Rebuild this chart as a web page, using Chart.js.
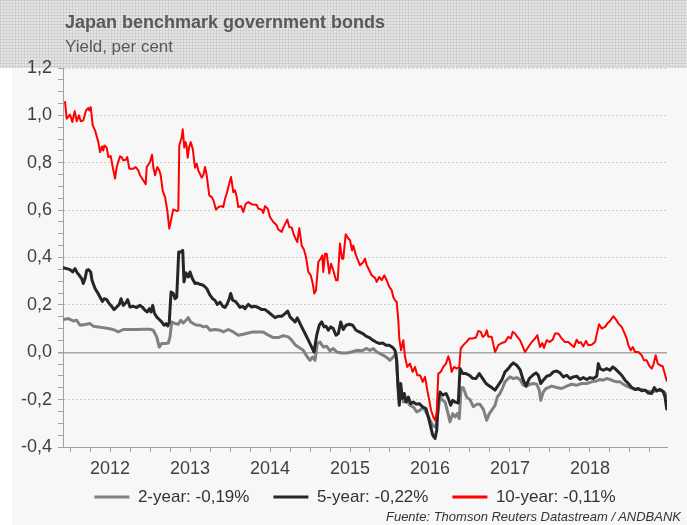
<!DOCTYPE html>
<html><head><meta charset="utf-8">
<script src="https://cdn.jsdelivr.net/npm/chart.js@4.4.0/dist/chart.umd.min.js"></script>
<style>
html,body{margin:0;padding:0;background:#fff;}
#wrap{position:relative;width:687px;height:525px;overflow:hidden;font-family:"Liberation Sans",Arial,sans-serif;}
#c{position:absolute;left:0;top:0;}
.t{position:absolute;white-space:nowrap;}
#title{left:65px;top:12px;font-weight:bold;font-size:18px;line-height:20px;color:#595959;}
#subtitle{left:65px;top:37px;font-size:17px;line-height:20px;color:#595959;}
#footer{right:6px;top:509px;font-style:italic;font-size:13px;line-height:15px;color:#333;}
</style></head><body>
<div id="wrap"><canvas id="c" width="687" height="525"></canvas>
<div class="t" id="title">Japan benchmark government bonds</div>
<div class="t" id="subtitle">Yield, per cent</div>
<div class="t" id="footer">Fuente: Thomson Reuters Datastream / ANDBANK</div>
</div>
<script>
// ---- data (decimal-year dates, yields in per cent) ----
const seriesNames = ['2-year: -0,19%', '5-year: -0,22%', '10-year: -0,11%'];
const yearLabels = ['2012','2013','2014','2015','2016','2017','2018'];
const yTickValues = [-0.4,-0.2,0,0.2,0.4,0.6,0.8,1.0,1.2];
const yTickLabels = ['-0,4','-0,2','0,0','0,2','0,4','0,6','0,8','1,0','1,2'];

const dates2y = [2011.916,2011.979,2012.041,2012.084,2012.125,2012.188,2012.250,2012.291,2012.354,2012.416,
2012.479,2012.541,2012.604,2012.666,2012.750,2012.834,2012.916,2013.000,2013.041,2013.084,
2013.116,2013.146,2013.188,2013.229,2013.250,2013.271,2013.313,2013.354,2013.384,2013.416,
2013.450,2013.479,2013.509,2013.541,2013.584,2013.625,2013.666,2013.709,2013.750,2013.813,
2013.875,2013.916,2013.979,2014.041,2014.104,2014.166,2014.229,2014.291,2014.354,2014.416,
2014.479,2014.541,2014.604,2014.666,2014.729,2014.771,2014.813,2014.854,2014.916,2014.966,
2015.000,2015.034,2015.063,2015.091,2015.125,2015.166,2015.209,2015.250,2015.291,2015.334,
2015.396,2015.459,2015.521,2015.584,2015.646,2015.709,2015.750,2015.791,2015.834,2015.875,
2015.916,2015.959,2016.000,2016.041,2016.075,2016.096,2016.116,2016.138,2016.166,2016.209,
2016.250,2016.291,2016.334,2016.375,2016.416,2016.459,2016.500,2016.541,2016.571,2016.596,
2016.625,2016.659,2016.688,2016.716,2016.750,2016.784,2016.813,2016.841,2016.866,2016.888,
2016.916,2016.959,2017.000,2017.041,2017.084,2017.125,2017.166,2017.209,2017.241,2017.271,
2017.313,2017.341,2017.375,2017.409,2017.438,2017.466,2017.500,2017.541,2017.584,2017.625,
2017.666,2017.709,2017.750,2017.791,2017.834,2017.866,2017.884,2017.916,2017.950,2017.979,
2018.021,2018.084,2018.146,2018.209,2018.271,2018.334,2018.396,2018.459,2018.521,2018.584,
2018.625,2018.666,2018.709,2018.750,2018.791,2018.834,2018.875,2018.916,2018.959,2019.000,
2019.041,2019.084,2019.146,2019.209,2019.271,2019.334,2019.396,2019.438,2019.459];
const yield2y = [0.138,0.142,0.132,0.135,0.114,0.117,0.121,0.110,0.107,0.104,
0.100,0.096,0.086,0.096,0.096,0.096,0.097,0.097,0.093,0.065,
0.022,0.037,0.037,0.039,0.065,0.128,0.121,0.118,0.135,0.124,
0.135,0.146,0.128,0.121,0.114,0.114,0.107,0.110,0.093,0.096,
0.093,0.086,0.096,0.086,0.072,0.076,0.081,0.086,0.086,0.086,
0.072,0.062,0.062,0.070,0.065,0.051,0.032,0.022,0.008,-0.020,
-0.034,-0.020,-0.034,0.037,0.043,0.022,0.025,0.006,0.016,0.001,
-0.003,-0.003,0.001,0.008,0.006,0.016,0.008,0.016,0.001,-0.006,
-0.013,-0.022,-0.034,-0.020,-0.006,-0.118,-0.203,-0.160,-0.210,-0.203,
-0.224,-0.231,-0.252,-0.245,-0.231,-0.259,-0.287,-0.312,-0.315,-0.259,
-0.189,-0.203,-0.210,-0.245,-0.294,-0.259,-0.273,-0.259,-0.280,-0.150,
-0.150,-0.190,-0.200,-0.230,-0.220,-0.220,-0.240,-0.287,-0.259,-0.245,
-0.224,-0.189,-0.174,-0.149,-0.125,-0.115,-0.104,-0.111,-0.107,-0.115,
-0.139,-0.143,-0.135,-0.132,-0.135,-0.160,-0.203,-0.168,-0.153,-0.149,
-0.143,-0.149,-0.153,-0.143,-0.135,-0.139,-0.132,-0.132,-0.125,-0.121,
-0.115,-0.118,-0.111,-0.115,-0.121,-0.125,-0.125,-0.135,-0.143,-0.149,
-0.153,-0.157,-0.157,-0.163,-0.167,-0.163,-0.160,-0.172,-0.185];

const dates5y = [2011.916,2011.959,2012.000,2012.034,2012.063,2012.091,2012.116,2012.146,2012.166,2012.188,
2012.209,2012.229,2012.259,2012.275,2012.313,2012.341,2012.375,2012.404,2012.429,2012.459,
2012.491,2012.521,2012.550,2012.584,2012.616,2012.638,2012.666,2012.696,2012.721,2012.750,
2012.791,2012.834,2012.875,2012.909,2012.938,2012.966,2012.991,2013.013,2013.034,2013.054,
2013.084,2013.116,2013.146,2013.175,2013.200,2013.221,2013.241,2013.263,2013.291,2013.313,
2013.334,2013.359,2013.384,2013.409,2013.425,2013.450,2013.479,2013.500,2013.529,2013.563,
2013.591,2013.625,2013.666,2013.709,2013.750,2013.784,2013.813,2013.841,2013.875,2013.909,
2013.938,2013.966,2013.991,2014.009,2014.034,2014.063,2014.091,2014.125,2014.159,2014.188,
2014.229,2014.271,2014.313,2014.354,2014.396,2014.438,2014.479,2014.521,2014.563,2014.604,
2014.646,2014.688,2014.721,2014.750,2014.784,2014.813,2014.841,2014.896,2014.938,2014.979,
2015.021,2015.050,2015.084,2015.116,2015.146,2015.175,2015.200,2015.229,2015.259,2015.291,
2015.325,2015.354,2015.384,2015.416,2015.450,2015.491,2015.534,2015.575,2015.616,2015.659,
2015.700,2015.741,2015.784,2015.825,2015.866,2015.909,2015.950,2015.991,2016.034,2016.063,
2016.084,2016.100,2016.116,2016.134,2016.154,2016.179,2016.200,2016.229,2016.259,2016.291,
2016.325,2016.366,2016.409,2016.450,2016.479,2016.509,2016.534,2016.563,2016.584,2016.604,
2016.625,2016.659,2016.700,2016.729,2016.759,2016.784,2016.813,2016.854,2016.875,2016.909,
2016.950,2016.991,2017.034,2017.075,2017.116,2017.159,2017.200,2017.229,2017.271,2017.313,
2017.354,2017.396,2017.438,2017.479,2017.509,2017.541,2017.584,2017.625,2017.666,2017.700,
2017.741,2017.784,2017.825,2017.854,2017.884,2017.916,2017.959,2018.000,2018.041,2018.084,
2018.125,2018.166,2018.209,2018.250,2018.291,2018.334,2018.375,2018.416,2018.459,2018.500,
2018.541,2018.584,2018.604,2018.625,2018.666,2018.709,2018.750,2018.784,2018.813,2018.854,
2018.896,2018.938,2018.979,2019.021,2019.063,2019.104,2019.146,2019.188,2019.229,2019.271,
2019.304,2019.334,2019.375,2019.416,2019.438,2019.459];
const yield5y = [0.357,0.353,0.349,0.339,0.353,0.335,0.325,0.311,0.290,0.311,
0.346,0.349,0.339,0.304,0.269,0.254,0.233,0.215,0.226,0.222,
0.205,0.194,0.180,0.191,0.202,0.226,0.198,0.208,0.222,0.191,
0.194,0.189,0.198,0.189,0.177,0.170,0.184,0.170,0.198,0.166,
0.149,0.138,0.128,0.114,0.121,0.111,0.128,0.254,0.248,0.226,
0.233,0.423,0.423,0.430,0.297,0.335,0.318,0.339,0.311,0.290,
0.292,0.287,0.283,0.269,0.241,0.226,0.219,0.202,0.212,0.194,
0.189,0.205,0.226,0.248,0.219,0.216,0.205,0.189,0.194,0.184,
0.202,0.191,0.194,0.189,0.180,0.180,0.170,0.158,0.146,0.152,
0.152,0.163,0.174,0.149,0.138,0.128,0.145,0.107,0.079,0.051,
0.022,0.001,0.072,0.114,0.128,0.107,0.110,0.093,0.107,0.100,
0.072,0.079,0.128,0.096,0.114,0.118,0.114,0.093,0.086,0.079,
0.068,0.062,0.051,0.043,0.037,0.039,0.030,0.030,0.020,0.008,
-0.034,-0.146,-0.224,-0.132,-0.195,-0.174,-0.210,-0.189,-0.217,-0.210,
-0.219,-0.217,-0.231,-0.238,-0.273,-0.315,-0.350,-0.364,-0.329,-0.203,
-0.168,-0.181,-0.174,-0.195,-0.224,-0.203,-0.210,-0.214,-0.069,-0.090,
-0.090,-0.097,-0.110,-0.111,-0.090,-0.111,-0.132,-0.139,-0.149,-0.160,
-0.139,-0.118,-0.083,-0.069,-0.055,-0.045,-0.055,-0.073,-0.118,-0.143,
-0.111,-0.097,-0.087,-0.097,-0.132,-0.118,-0.101,-0.097,-0.083,-0.079,
-0.087,-0.104,-0.097,-0.111,-0.104,-0.101,-0.115,-0.107,-0.115,-0.107,
-0.111,-0.101,-0.048,-0.069,-0.076,-0.069,-0.076,-0.062,-0.069,-0.083,
-0.097,-0.118,-0.132,-0.149,-0.157,-0.153,-0.163,-0.160,-0.172,-0.174,
-0.149,-0.163,-0.157,-0.167,-0.189,-0.240];

const dates10y = [2011.938,2011.959,2012.000,2012.029,2012.059,2012.084,2012.113,2012.134,2012.166,2012.200,
2012.229,2012.241,2012.259,2012.284,2012.313,2012.354,2012.375,2012.400,2012.416,2012.429,
2012.459,2012.479,2012.509,2012.534,2012.563,2012.584,2012.625,2012.646,2012.666,2012.700,
2012.716,2012.741,2012.791,2012.821,2012.854,2012.875,2012.916,2012.946,2012.959,2013.000,
2013.025,2013.041,2013.063,2013.091,2013.116,2013.134,2013.159,2013.188,2013.216,2013.241,
2013.271,2013.291,2013.334,2013.354,2013.366,2013.396,2013.409,2013.429,2013.446,2013.459,
2013.471,2013.488,2013.509,2013.534,2013.563,2013.584,2013.604,2013.646,2013.666,2013.688,
2013.709,2013.741,2013.771,2013.791,2013.825,2013.854,2013.896,2013.916,2013.938,2013.959,
2013.991,2014.013,2014.041,2014.063,2014.084,2014.104,2014.138,2014.166,2014.196,2014.229,
2014.271,2014.334,2014.354,2014.396,2014.416,2014.438,2014.471,2014.500,2014.541,2014.584,
2014.604,2014.646,2014.666,2014.716,2014.741,2014.771,2014.800,2014.841,2014.866,2014.896,
2014.925,2014.950,2014.979,2015.009,2015.034,2015.054,2015.075,2015.104,2015.134,2015.154,
2015.166,2015.188,2015.209,2015.241,2015.263,2015.291,2015.325,2015.346,2015.375,2015.400,
2015.416,2015.446,2015.479,2015.500,2015.525,2015.541,2015.575,2015.625,2015.666,2015.688,
2015.709,2015.741,2015.771,2015.813,2015.834,2015.866,2015.896,2015.929,2015.959,2015.991,
2016.021,2016.041,2016.063,2016.084,2016.104,2016.116,2016.138,2016.166,2016.188,2016.216,
2016.250,2016.284,2016.313,2016.341,2016.375,2016.409,2016.438,2016.466,2016.491,2016.513,
2016.541,2016.563,2016.584,2016.604,2016.634,2016.666,2016.700,2016.729,2016.750,2016.771,
2016.800,2016.834,2016.866,2016.884,2016.916,2016.959,2016.991,2017.034,2017.075,2017.104,
2017.134,2017.159,2017.188,2017.209,2017.229,2017.271,2017.313,2017.354,2017.396,2017.438,
2017.479,2017.509,2017.534,2017.563,2017.591,2017.625,2017.659,2017.688,2017.729,2017.771,
2017.813,2017.841,2017.875,2017.904,2017.925,2017.959,2017.991,2018.034,2018.063,2018.104,
2018.146,2018.188,2018.229,2018.271,2018.300,2018.334,2018.359,2018.384,2018.416,2018.450,
2018.479,2018.521,2018.563,2018.591,2018.613,2018.646,2018.688,2018.716,2018.750,2018.791,
2018.825,2018.854,2018.896,2018.925,2018.959,2018.979,2019.009,2019.034,2019.063,2019.104,
2019.146,2019.175,2019.209,2019.238,2019.271,2019.291,2019.321,2019.346,2019.375,2019.409,
2019.429,2019.459];
const yield10y = [1.056,0.986,1.003,0.972,1.018,0.975,1.000,0.975,0.979,1.021,
1.031,1.021,1.035,0.958,0.937,0.887,0.845,0.869,0.852,0.873,
0.864,0.824,0.828,0.782,0.733,0.782,0.827,0.824,0.810,0.813,
0.824,0.775,0.775,0.782,0.768,0.747,0.726,0.709,0.782,0.803,
0.834,0.782,0.747,0.782,0.768,0.747,0.681,0.655,0.599,0.522,
0.571,0.603,0.596,0.599,0.873,0.908,0.941,0.864,0.887,0.866,
0.821,0.864,0.887,0.859,0.779,0.796,0.768,0.737,0.747,0.782,
0.747,0.662,0.655,0.644,0.602,0.613,0.617,0.613,0.648,0.670,
0.712,0.740,0.676,0.684,0.655,0.613,0.617,0.592,0.627,0.634,
0.625,0.622,0.606,0.602,0.588,0.617,0.606,0.571,0.550,0.536,
0.518,0.508,0.526,0.560,0.529,0.526,0.494,0.465,0.524,0.451,
0.433,0.402,0.339,0.325,0.290,0.248,0.262,0.381,0.395,0.409,
0.339,0.416,0.416,0.332,0.374,0.346,0.304,0.304,0.459,0.395,
0.395,0.498,0.480,0.473,0.430,0.451,0.409,0.367,0.381,0.395,
0.367,0.346,0.325,0.314,0.297,0.318,0.304,0.325,0.304,0.276,
0.262,0.233,0.219,0.212,0.135,0.058,0.008,0.051,-0.020,-0.062,
-0.048,-0.083,-0.062,-0.097,-0.097,-0.125,-0.104,-0.160,-0.203,-0.245,
-0.273,-0.287,-0.252,-0.090,-0.083,-0.062,-0.048,-0.017,-0.041,-0.083,
-0.062,-0.069,-0.062,0.016,0.030,0.045,0.058,0.058,0.062,0.090,
0.086,0.065,0.072,0.093,0.065,0.065,0.001,0.030,0.039,0.043,
0.065,0.058,0.086,0.079,0.065,0.051,0.025,0.001,0.022,0.043,
0.058,0.072,0.022,0.039,0.018,0.051,0.043,0.053,0.079,0.079,
0.058,0.043,0.043,0.030,0.022,0.053,0.039,0.043,0.025,0.048,
0.030,0.032,0.043,0.086,0.118,0.100,0.107,0.121,0.132,0.152,
0.138,0.121,0.107,0.086,0.058,0.030,0.008,0.022,0.001,0.001,
-0.013,-0.034,-0.034,-0.055,-0.069,-0.055,-0.013,-0.048,-0.055,-0.059,
-0.083,-0.120];

// ---- chart ----
const FONT = '"Liberation Sans", Arial, sans-serif';
Chart.defaults.font.family = FONT;
const PAD_LEFT = 12;
const toPoints = (d, v) => d.map((x, i) => ({x: x, y: v[i]}));
const near = (a, b) => Math.abs(a - b) < 1e-6;

const bgPlugin = {
  id: 'bg',
  beforeDraw(chart) {
    const ctx = chart.ctx, W = chart.width, H = chart.height;
    ctx.save();
    ctx.fillStyle = '#ffffff'; ctx.fillRect(0, 0, W, H);
    ctx.fillStyle = '#f7f7f7'; ctx.fillRect(12, 68, W - 12, H - 68);
    const p = document.createElement('canvas'); p.width = 3; p.height = 3;
    const pc = p.getContext('2d');
    pc.fillStyle = '#e4e4e4'; pc.fillRect(0, 0, 3, 3);
    pc.fillStyle = '#d4d4d4'; pc.fillRect(0, 0, 3, 1); pc.fillRect(0, 0, 1, 3);
    pc.fillStyle = '#cacaca'; pc.fillRect(0, 0, 1, 1);
    ctx.fillStyle = ctx.createPattern(p, 'repeat');
    ctx.fillRect(0, 0, W, 68);
    ctx.restore();
  }
};

// moves the library legend to the reference position (left edge of first sample, centre line)
const legendPlace = {
  id: 'legendPlace',
  afterLayout(chart) {
    const lg = chart.legend;
    if (!lg) return;
    const dx = 15.5, dy = -15.5;
    lg.left += dx; lg.right += dx; lg.top += dy; lg.bottom += dy;
  }
};

new Chart(document.getElementById('c'), {
  type: 'line',
  data: {
    datasets: [
      {label: seriesNames[0], data: toPoints(dates2y, yield2y), borderColor: '#808080', backgroundColor: '#808080', borderWidth: 3, order: 2},
      {label: seriesNames[1], data: toPoints(dates5y, yield5y), borderColor: '#262626', backgroundColor: '#262626', borderWidth: 3, order: 1},
      {label: seriesNames[2], data: toPoints(dates10y, yield10y), borderColor: '#ff0000', backgroundColor: '#ff0000', borderWidth: 2, order: 0}
    ]
  },
  options: {
    responsive: false,
    animation: false,
    devicePixelRatio: 1,
    layout: {padding: {left: PAD_LEFT, right: 20, top: 68, bottom: 0}},
    elements: {point: {radius: 0}, line: {tension: 0, borderJoinStyle: 'round', borderCapStyle: 'round'}},
    plugins: {
      title: {display: false},
      tooltip: {enabled: false},
      legend: {
        position: 'bottom', align: 'center', maxHeight: 45,
        labels: {
          boxWidth: 35, boxHeight: 3, padding: 24, color: '#333333',
          font: {size: 17, family: FONT},
          sort: (a, b) => a.datasetIndex - b.datasetIndex,
          generateLabels(chart) {
            return Chart.defaults.plugins.legend.labels.generateLabels(chart)
              .map(l => Object.assign({}, l, {lineWidth: 0, fillStyle: l.strokeStyle}));
          }
        }
      }
    },
    scales: {
      x: {
        type: 'linear', min: 2011.9125, max: 2019.4625,
        border: {display: true, color: '#a0a0a0', width: 1},
        grid: {drawOnChartArea: false, drawTicks: true, tickLength: 5, tickColor: '#a0a0a0'},
        ticks: {
          stepSize: 0.25, autoSkip: false, maxRotation: 0, minRotation: 0, includeBounds: false,
          padding: 6, color: '#404040', font: {size: 18, family: FONT},
          callback(v) {
            const y = Math.floor(v);
            if (near(v - y, 0.5) && yearLabels.includes(String(y))) return String(y);
            return '';
          }
        },
        afterFit(s) { s.height = 33; }
      },
      y: {
        min: -0.4, max: 1.2,
        border: {display: true, color: '#a0a0a0', width: 1,
          dash(ctx) { return (ctx.tick && near(ctx.tick.value, 0)) ? [] : [2, 2]; }},
        grid: {
          drawTicks: true, tickLength: 5, tickColor: '#a0a0a0',
          color(ctx) {
            if (!ctx.tick) return 'rgba(0,0,0,0)';
            const v = ctx.tick.value;
            if (near(v, 0)) return '#a6a6a6';
            return yTickValues.some(t => near(t, v)) ? '#cfcfcf' : 'rgba(0,0,0,0)';
          },
          lineWidth(ctx) { return (ctx.tick && near(ctx.tick.value, 0)) ? 1.5 : 1; }
        },
        ticks: {
          stepSize: 0.05, autoSkip: false, padding: 6, color: '#404040', font: {size: 18, family: FONT},
          callback(v) {
            const i = yTickValues.findIndex(t => near(t, v));
            return i >= 0 ? yTickLabels[i] : '';
          }
        },
        afterFit(s) { s.width = 63 - PAD_LEFT; }
      }
    }
  },
  plugins: [bgPlugin, legendPlace]
});
</script>
</body></html>
